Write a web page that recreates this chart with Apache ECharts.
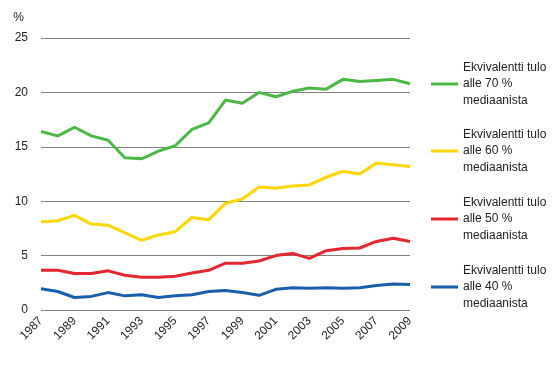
<!DOCTYPE html>
<html><head><meta charset="utf-8">
<script src="https://cdn.jsdelivr.net/npm/echarts@6/dist/echarts.min.js"></script>
<style>html,body{margin:0;padding:0;background:#fff}#c{width:559px;height:369px}</style>
</head><body><div id="c"></div>
<script>
const years = ['1987','1988','1989','1990','1991','1992','1993','1994','1995','1996','1997','1998','1999','2000','2001','2002','2003','2004','2005','2006','2007','2008','2009'];
const alle70 = [16.4,16.0,16.8,16.0,15.6,14.0,13.9,14.6,15.1,16.6,17.2,19.3,19.0,20.0,19.6,20.1,20.4,20.3,21.2,21.0,21.1,21.2,20.8];
const alle60 = [8.1,8.2,8.7,7.9,7.8,7.1,6.4,6.9,7.2,8.5,8.3,9.8,10.2,11.3,11.2,11.4,11.5,12.2,12.75,12.5,13.5,13.35,13.2];
const alle50 = [3.65,3.65,3.35,3.35,3.6,3.2,3.0,3.0,3.1,3.4,3.65,4.3,4.3,4.5,5.0,5.2,4.75,5.45,5.65,5.7,6.3,6.6,6.3];
const alle40 = [1.95,1.7,1.15,1.25,1.6,1.3,1.4,1.15,1.3,1.4,1.7,1.8,1.6,1.35,1.9,2.05,2.0,2.05,2.0,2.05,2.25,2.4,2.35];
const seriesNames = ['Ekvivalentti tulo\nalle 70 %\nmediaanista','Ekvivalentti tulo\nalle 60 %\nmediaanista','Ekvivalentti tulo\nalle 50 %\nmediaanista','Ekvivalentti tulo\nalle 40 %\nmediaanista'];
const colors = ['#4db848','#ffd700','#e3262f','#1a5fab'];
const yTicks = [0,5,10,15,20,25];

const font = 'Liberation Sans, Arial, sans-serif';
const data = [alle70, alle60, alle50, alle40];
const legendTops = [84,151,219,287];
const lh = 16.5;
const chart = echarts.init(document.getElementById('c'), null, {renderer:'canvas'});
chart.setOption({
  animation:false,
  color: colors,
  textStyle:{fontFamily:font},
  grid:{left:41,right:149,top:38,bottom:59},
  legend: seriesNames.map((n,i)=>({
    data:[n], orient:'vertical', left:431, top:legendTops[i]-lh*1.5-lh, padding:0,
    icon:'rect', itemWidth:27, itemHeight:3,
    selectedMode:false,
    textStyle:{fontFamily:font,fontSize:12,color:'#222',lineHeight:lh,padding:[lh*2,0,0,0]}
  })),
  xAxis:{type:'category',data:years,boundaryGap:false,
    axisLine:{show:false},axisTick:{show:false},
    axisLabel:{interval:1,rotate:45,fontSize:12,color:'#222',margin:9,fontFamily:font}},
  yAxis:{type:'value',min:yTicks[0],max:yTicks[yTicks.length-1],interval:5,
    name:'%',nameLocation:'end',nameGap:14,nameTextStyle:{fontSize:12,color:'#222',align:'right',padding:[0,17,0,0]},
    axisLine:{show:false},axisTick:{show:false},
    axisLabel:{fontSize:12,color:'#222',margin:13,fontFamily:font},
    splitLine:{lineStyle:{color:'#808080',width:1}}},
  series: seriesNames.map((n,i)=>({
    name:n,type:'line',data:data[i],symbol:'none',
    lineStyle:{width:3,color:colors[i]},itemStyle:{color:colors[i]}
  }))
});
</script></body></html>
